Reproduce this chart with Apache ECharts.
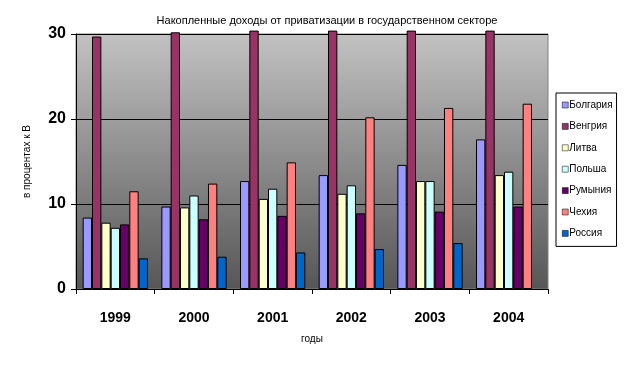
<!DOCTYPE html>
<html><head><meta charset="utf-8">
<script src="https://cdn.jsdelivr.net/npm/echarts@6/dist/echarts.min.js"></script>
<style>html,body{margin:0;padding:0;background:#fff}#c{width:636px;height:365px}</style>
</head><body><div id="c"></div>
<script>
const years = ['1999','2000','2001','2002','2003','2004'];
const bulgaria = [8.4, 9.7, 12.7, 13.4, 14.6, 17.6];
const hungary = [29.7, 30.2, 30.4, 30.4, 30.4, 30.4];
const lithuania = [7.8, 9.6, 10.6, 11.2, 12.7, 13.4];
const poland = [7.2, 11.0, 11.8, 12.2, 12.7, 13.8];
const romania = [7.6, 8.2, 8.6, 8.9, 9.1, 9.7];
const czech = [11.5, 12.4, 14.9, 20.2, 21.3, 21.8];
const russia = [3.6, 3.8, 4.3, 4.7, 5.4, null];
const seriesNames = ['Болгария','Венгрия','Литва','Польша','Румыния','Чехия','Россия'];
const colors = ['#9999FF','#993366','#FFFFCC','#CCFFFF','#660066','#FF8080','#0066CC'];
const allData = [bulgaria, hungary, lithuania, poland, romania, czech, russia];
const yTicks = [0, 10, 20, 30];

const chart = echarts.init(document.getElementById('c'), null, {renderer:'canvas'});
const font = 'Liberation Sans, Arial, sans-serif';
chart.setOption({
  animation: false,
  title: {text: 'Накопленные доходы от приватизации в государственном секторе', left: 322, top: 10, textAlign: 'center',
    textStyle: {fontFamily: font, fontSize: 11, fontWeight: 'normal', color: '#000'}},
  legend: {
    orient: 'vertical', left: 556, top: 93, width: 72,
    data: seriesNames,
    borderColor: '#000', borderWidth: 1, padding: [7, 4, 8, 6],
    itemWidth: 6, itemHeight: 6, itemGap: 11.4,
    icon: 'rect',
    itemStyle: {borderColor: '#000', borderWidth: 0.5},
    textStyle: {fontFamily: font, fontSize: 10, color: '#000', padding: [0,0,0,-4]}
  },
  grid: {left: 76, right: 88, top: 34, bottom: 76, show: true,
    backgroundColor: new echarts.graphic.LinearGradient(0,0,0,1,[{offset:0,color:'#c2c2c2'},{offset:1,color:'#565656'}]),
    borderColor: '#808080', borderWidth: 1},
  xAxis: {type: 'category', data: years, name: 'годы', nameLocation: 'middle', nameGap: 45,
    nameTextStyle: {fontFamily: font, fontSize: 10, color: '#000'},
    axisLine: {lineStyle: {color: '#000', width: 1}},
    axisTick: {show: true, length: 5, lineStyle: {color: '#000'}},
    axisLabel: {fontFamily: font, fontSize: 14, fontWeight: 'bold', color: '#000', margin: 22}},
  yAxis: {type: 'value', min: 0, max: 30, interval: 10, name: 'в процентах к В', nameLocation: 'middle', nameGap: 44,
    nameTextStyle: {fontFamily: font, fontSize: 10, color: '#000'},
    axisLine: {show: true, lineStyle: {color: '#000'}},
    axisTick: {show: true, length: 5, lineStyle: {color: '#000'}},
    splitLine: {lineStyle: {color: '#000', width: 1}},
    axisLabel: {fontFamily: font, fontSize: 16, fontWeight: 'bold', color: '#000', margin: 10,
      formatter: v => yTicks.includes(v) ? String(v) : ''}},
  series: seriesNames.map((n, i) => ({
    name: n, type: 'bar', data: allData[i], clip: false,
    barGap: '0%', barCategoryGap: '17%',
    itemStyle: {color: colors[i], borderColor: '#000', borderWidth: 1}
  }))
});
</script></body></html>
